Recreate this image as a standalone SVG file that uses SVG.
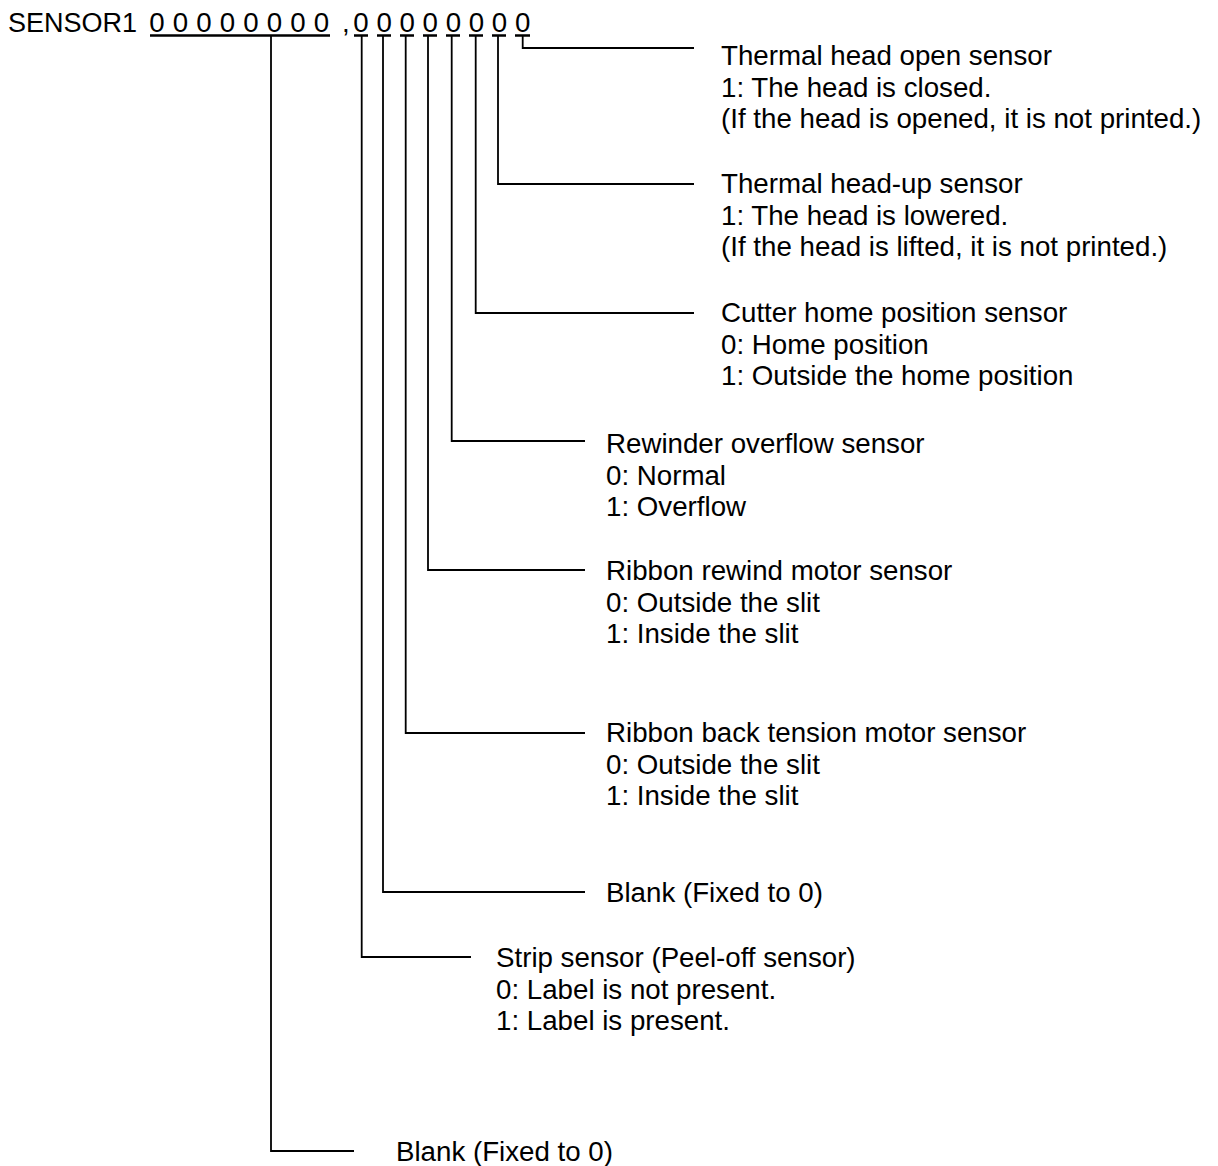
<svg xmlns="http://www.w3.org/2000/svg" width="1218" height="1166" viewBox="0 0 1218 1166">
<style>
text { font-family: "Liberation Sans", Arial, sans-serif; fill: #000; }
.lbl { font-size: 27.7px; }
.hdr { font-size: 27px; }
.dig { font-size: 27.7px; }
.ln { fill: none; stroke: #000; stroke-width: 1.8; }
.ul { fill: none; stroke: #000; stroke-width: 2.5; }
</style>
<rect width="1218" height="1166" fill="#fff"/>
<g id="header">
  <text class="hdr" x="8" y="32">SENSOR1</text>
  <text class="dig" x="149.3" y="32" word-spacing="0.4">0 0 0 0 0 0 0 0</text>
  <text class="dig" x="342" y="32">,</text>
  <text class="dig" x="353.3" y="32">0 0 0 0 0 0 0 0</text>
  <path class="ul" d="M150 35.5 H330 M354 35.5 H368 M377 35.5 H391 M400 35.5 H414 M423 35.5 H437 M446 35.5 H460 M469 35.5 H483 M492 35.5 H506 M515 35.5 H530"/>
</g>
<g id="connectors">
  <path class="ln" d="M522.7 36 V48 H694"/>
  <path class="ln" d="M498 36 V184 H694"/>
  <path class="ln" d="M475.7 36 V313 H694"/>
  <path class="ln" d="M451.7 36 V441 H585"/>
  <path class="ln" d="M428 36 V570 H585"/>
  <path class="ln" d="M405.7 36 V733 H585"/>
  <path class="ln" d="M383 36 V892 H585"/>
  <path class="ln" d="M361.7 36 V957 H471"/>
  <path class="ln" d="M271 36 V1151 H354"/>
</g>
<g id="bit0">
  <text class="lbl" x="721" y="65">Thermal head open sensor</text>
  <text class="lbl" x="721" y="96.5">1: The head is closed.</text>
  <text class="lbl" x="721" y="128">(If the head is opened, it is not printed.)</text>
</g>
<g id="bit1">
  <text class="lbl" x="721" y="193">Thermal head-up sensor</text>
  <text class="lbl" x="721" y="224.5">1: The head is lowered.</text>
  <text class="lbl" x="721" y="256">(If the head is lifted, it is not printed.)</text>
</g>
<g id="bit2">
  <text class="lbl" x="721" y="322">Cutter home position sensor</text>
  <text class="lbl" x="721" y="353.5">0: Home position</text>
  <text class="lbl" x="721" y="385">1: Outside the home position</text>
</g>
<g id="bit3">
  <text class="lbl" x="606" y="453">Rewinder overflow sensor</text>
  <text class="lbl" x="606" y="484.5">0: Normal</text>
  <text class="lbl" x="606" y="516">1: Overflow</text>
</g>
<g id="bit4">
  <text class="lbl" x="606" y="580">Ribbon rewind motor sensor</text>
  <text class="lbl" x="606" y="611.5">0: Outside the slit</text>
  <text class="lbl" x="606" y="643">1: Inside the slit</text>
</g>
<g id="bit5">
  <text class="lbl" x="606" y="742">Ribbon back tension motor sensor</text>
  <text class="lbl" x="606" y="773.5">0: Outside the slit</text>
  <text class="lbl" x="606" y="805">1: Inside the slit</text>
</g>
<g id="bit6">
  <text class="lbl" x="606" y="902">Blank (Fixed to 0)</text>
</g>
<g id="bit7">
  <text class="lbl" x="496" y="967">Strip sensor (Peel-off sensor)</text>
  <text class="lbl" x="496" y="998.5">0: Label is not present.</text>
  <text class="lbl" x="496" y="1030">1: Label is present.</text>
</g>
<g id="bit8-15">
  <text class="lbl" x="396" y="1161">Blank (Fixed to 0)</text>
</g>
</svg>
